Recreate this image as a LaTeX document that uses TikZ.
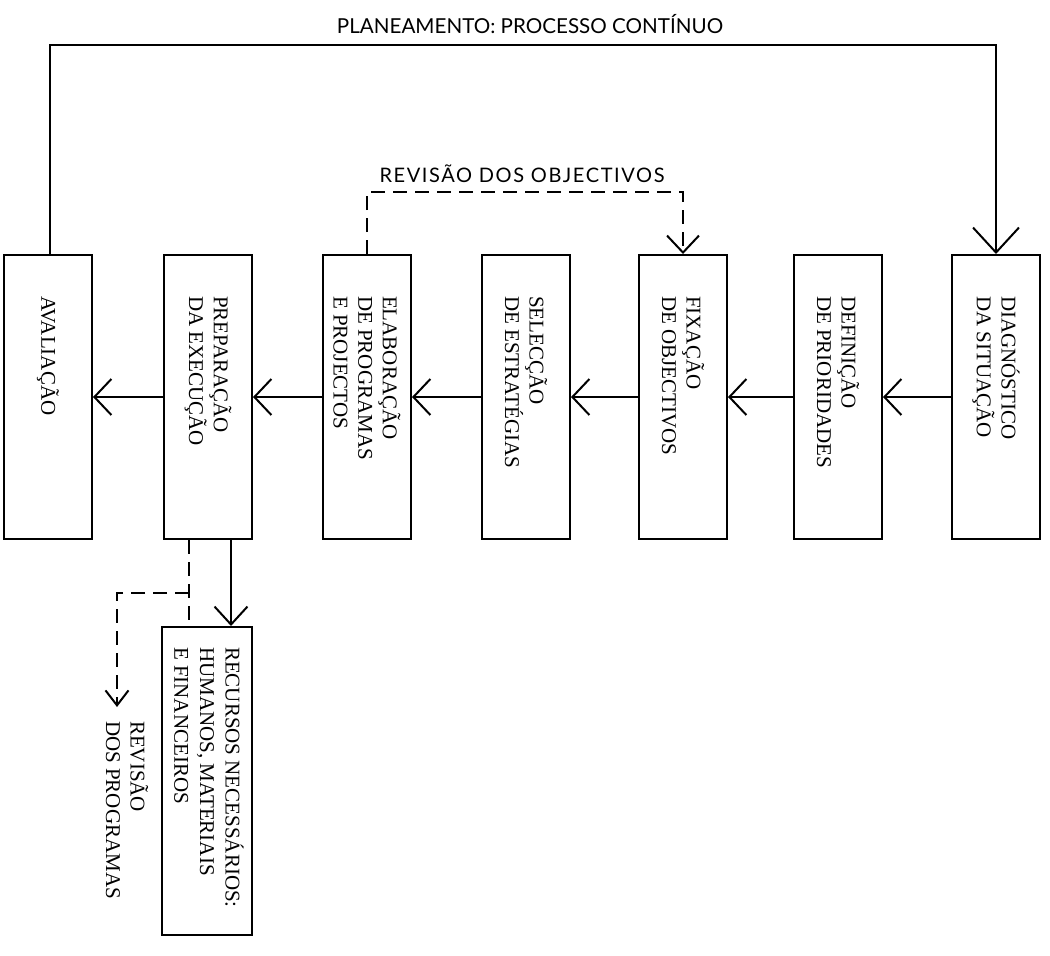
\documentclass[tikz,border=0pt]{standalone}
\usepackage{fontspec}
\setmainfont{Liberation Serif}
\newfontfamily\headfont{Lato}
\newfontfamily\headfontsp{Lato}[LetterSpace=8]
\usetikzlibrary{arrows.meta,calc}

\begin{document}
\begin{tikzpicture}[x=0.5pt,y=-0.5pt,line width=1pt,
  stage/.style={draw,minimum width=44pt,minimum height=142pt,inner sep=0pt},
  resbox/.style={draw,minimum width=45pt,minimum height=154pt,inner sep=0pt},
  lbl/.style={rotate=-90,anchor=west,align=left,inner sep=0pt,
    font=\fontsize{10.5}{12.3}\selectfont},
  flow/.style={-{Straight Barb[length=8.5pt,width=18pt]}},
  revline/.style={dash pattern=on 7pt off 4pt}]
\useasboundingbox (0,0) rectangle (1050,955);

% main sequence of planning stages
\node[stage] (aval)  at (48,397)  {};
\node[stage] (prep)  at (208,397) {};
\node[stage] (elab)  at (367,397) {};
\node[stage] (selec) at (526,397) {};
\node[stage] (fix)   at (683,397) {};
\node[stage] (def)   at (838,397) {};
\node[stage] (diag)  at (996,397) {};

\node[lbl] (aval-t)  at ($(aval.north)+(0,41)$)  {AVALIAÇÃO};
\node[lbl] (prep-t)  at ($(prep.north)+(0,41)$)  {PREPARAÇÃO\\DA EXECUÇÃO};
\node[lbl] (elab-t)  at ($(elab.north)+(0,41)$)  {ELABORAÇÃO\\DE PROGRAMAS\\E PROJECTOS};
\node[lbl] (selec-t) at ($(selec.north)+(0,41)$) {SELECÇÃO\\DE ESTRATÉGIAS};
\node[lbl] (fix-t)   at ($(fix.north)+(0,41)$)   {FIXAÇÃO\\DE OBJECTIVOS};
\node[lbl] (def-t)   at ($(def.north)+(0,41)$)   {DEFINIÇÃO\\DE PRIORIDADES};
\node[lbl] (diag-t)  at ($(diag.north)+(0,41)$)  {DIAGNÓSTICO\\DA SITUAÇÃO};

\draw[flow] (diag.west)  -- (def.east);
\draw[flow] (def.west)   -- (fix.east);
\draw[flow] (fix.west)   -- (selec.east);
\draw[flow] (selec.west) -- (elab.east);
\draw[flow] (elab.west)  -- (prep.east);
\draw[flow] (prep.west)  -- (aval.east);

% continuous planning loop
\coordinate (loopL) at (50,45);
\coordinate (loopR) at (996,45);
\draw[-{Straight Barb[length=12.5pt,width=23pt]}]
  (aval.north -| loopL) -- (loopL) -- (loopR) -- (diag.north);
\node[font=\headfont\fontsize{10.3}{12}\selectfont] (title) at (530,24)
  {PLANEAMENTO: PROCESSO CONTÍNUO};

% review of objectives
\coordinate (roL) at (367,192);
\coordinate (roR) at (683,192);
\draw[revline,-{Straight Barb[length=8.5pt,width=16pt]}]
  (elab.north) -- (roL) -- (roR) -- (fix.north);
\node[font=\headfontsp\fontsize{10}{12}\selectfont] (revobj) at (522,174)
  {REVISÃO DOS OBJECTIVOS};

% resources and review of programmes
\node[resbox] (rec) at (207,781) {};
\node[lbl,font=\fontsize{10.5}{12.8}\selectfont] (rec-t) at ($(rec.north)+(2,20)$)
  {RECURSOS NECESSÁRIOS:\\HUMANOS, MATERIAIS\\E FINANCEIROS};

\coordinate (solidx) at (231,0);
\draw[-{Straight Barb[length=9pt,width=16.5pt]}]
  (prep.south -| solidx) -- (rec.north -| solidx);

\coordinate (dashx) at (189,0);
\coordinate (rpturn) at (117,593);
\coordinate (rptip) at (117,707);
\draw[revline] (prep.south -| dashx) -- (rec.north -| dashx);
\draw[revline,-{Straight Barb[length=7.5pt,width=11.5pt]}]
  (dashx |- rpturn) -- (rpturn) -- (rptip);
\node[lbl] (revprog) at (127,720) {REVISÃO\\DOS PROGRAMAS};
\end{tikzpicture}
\end{document}
